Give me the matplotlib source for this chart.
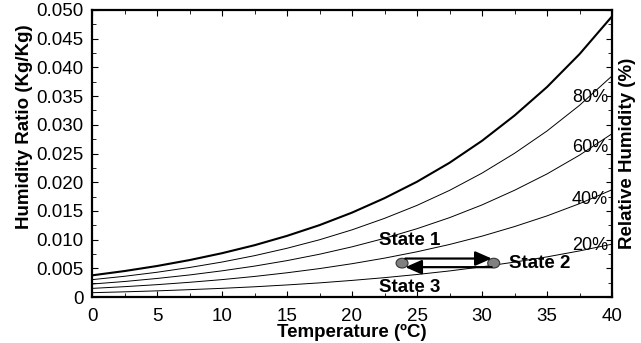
import numpy as np
import matplotlib.pyplot as plt
from matplotlib.patches import Ellipse

plt.rcParams['font.family'] = ['Liberation Sans', 'DejaVu Sans']

# temperature grid (°C) and humidity ratio (kg/kg)
temp = [0, 2.5, 5, 7.5, 10, 12.5, 15, 17.5, 20, 22.5, 25, 27.5, 30, 32.5, 35, 37.5, 40]
w_100 = [0.00377, 0.00452, 0.00540, 0.00643, 0.00763, 0.00902, 0.01065, 0.01252, 0.01470,
         0.01722, 0.02008, 0.02338, 0.02721, 0.03161, 0.03658, 0.04231, 0.04889]
w_80 = [0.00302, 0.00361, 0.00431, 0.00514, 0.00609, 0.00720, 0.00849, 0.00997, 0.01170,
        0.01370, 0.01596, 0.01857, 0.02158, 0.02503, 0.02892, 0.03339, 0.03851]
w_60 = [0.00226, 0.00270, 0.00323, 0.00384, 0.00456, 0.00538, 0.00634, 0.00745, 0.00874,
        0.01022, 0.01190, 0.01382, 0.01604, 0.01859, 0.02144, 0.02471, 0.02844]
w_40 = [0.00150, 0.00180, 0.00215, 0.00256, 0.00303, 0.00358, 0.00422, 0.00495, 0.00580,
        0.00677, 0.00788, 0.00915, 0.01060, 0.01227, 0.01413, 0.01626, 0.01868]
w_20 = [0.00075, 0.00090, 0.00107, 0.00128, 0.00151, 0.00178, 0.00210, 0.00246, 0.00289,
        0.00337, 0.00392, 0.00454, 0.00526, 0.00608, 0.00699, 0.00803, 0.00920]

rh_labels = ['80%', '60%', '40%', '20%']
rh_label_pos = [(38.3, 0.0348), (38.3, 0.0261), (38.3, 0.0169), (38.3, 0.0089)]

# process states
state_t = [23.85, 30.9]
state_w = [0.0059, 0.0059]
state_names = ['State 1', 'State 2', 'State 3']
state_label_pos = [(22.1, 0.0099), (32.1, 0.0059), (22.1, 0.0017)]

fig = plt.figure(figsize=(6.41, 3.43), dpi=100)
ax = fig.add_axes([92/641, 46/343, 520/641, 287/343])

ax.plot(temp, w_100, color='black', lw=1.5)
for w in [w_80, w_60, w_40, w_20]:
    ax.plot(temp, w, color='black', lw=0.7)

for lab, (x, y) in zip(rh_labels, rh_label_pos):
    ax.text(x, y, lab, fontsize=13, ha='center', va='center')

# states and arrows
for t, w in zip(state_t, state_w):
    ax.add_patch(Ellipse((t, w), 0.92, 0.0017, facecolor='#808080', edgecolor='#333333',
                         lw=0.8, zorder=3))
arrow_kw = dict(arrowstyle='-|>,head_length=0.5,head_width=0.22', color='black', lw=1.6,
                mutation_scale=20, shrinkA=0, shrinkB=0)
ax.annotate('', xy=(30.75, 0.0067), xytext=(24.1, 0.0067), arrowprops=arrow_kw, zorder=4)
ax.annotate('', xy=(24.1, 0.0052), xytext=(30.75, 0.0052), arrowprops=arrow_kw, zorder=4)
for name, (x, y) in zip(state_names, state_label_pos):
    ax.text(x, y, name, fontsize=13.5, fontweight='bold', ha='left', va='center')

ax.set_xlim(0, 40)
ax.set_ylim(0, 0.050)
ax.set_xticks(np.arange(0, 41, 5))
ax.set_yticks(np.arange(0, 0.0501, 0.005))
ax.set_yticklabels(['0'] + ['%.3f' % v for v in np.arange(0.005, 0.0501, 0.005)])
ax.set_xticks(np.arange(0, 41, 2.5), minor=True)
ax.set_yticks(np.arange(0, 0.0501, 0.0025), minor=True)
ax.tick_params(which='both', direction='in', top=True, right=True, labelsize=13.5)
ax.tick_params(which='major', length=4, width=0.8)
ax.tick_params(which='minor', length=3, width=0.6)
ax.tick_params(axis='x', pad=8)
ax.tick_params(axis='y', pad=6)
for s in ax.spines.values():
    s.set_linewidth(1.6)

fig.text(0.5 * (92 + 612) / 641, (343 - 332) / 343, 'Temperature (ºC)', fontsize=13.5,
         fontweight='bold', ha='center', va='center')
fig.text(25 / 641, (343 - 127) / 343, 'Humidity Ratio (Kg/Kg)', rotation=90, fontsize=13.5,
         fontweight='bold', ha='center', va='center')
fig.text(628 / 641, (343 - 153) / 343, 'Relative Humidity (%)', rotation=90, fontsize=13.5,
         fontweight='bold', ha='center', va='center')

fig.savefig('out.png', dpi=100)
